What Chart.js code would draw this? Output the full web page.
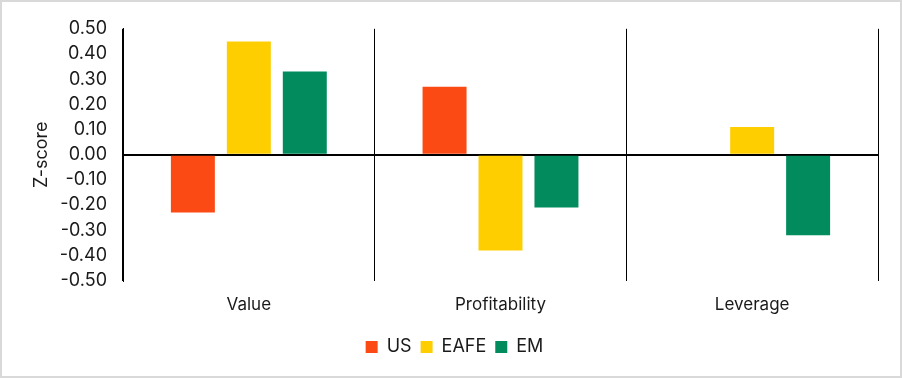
<!DOCTYPE html>
<html>
<head>
<meta charset="utf-8">
<script src="https://cdn.jsdelivr.net/npm/chart.js@4"></script>
<style>
  html, body { margin: 0; padding: 0; background: #fff; }
  #wrap { width: 902px; height: 378px; box-sizing: border-box; border: 2px solid #d9d9d9; position: relative; }
</style>
</head>
<body>
<div id="wrap"><canvas id="chart"></canvas></div>
<script>
// --- DATA ---
const categories = ['Value', 'Profitability', 'Leverage'];
const usValues = [-0.23, 0.27, 0];
const eafeValues = [0.45, -0.38, 0.11];
const emValues = [0.33, -0.21, -0.32];

const COLORS = {
    us: '#fc4a14',
    eafe: '#ffce00',
    em: '#028b5c',
    text: '#1a1a1a'
};

const FONT = 'Inter, "Noto Sans", sans-serif';

function makeDataset(label, data, color) {
    return {
        label: label,
        data: data,
        backgroundColor: color,
        borderWidth: 0,
        categoryPercentage: 0.667,
        barPercentage: 0.786
    };
}

new Chart(document.getElementById('chart'), {
    type: 'bar',
    data: {
        labels: categories,
        datasets: [
            makeDataset('US', usValues, COLORS.us),
            makeDataset('EAFE', eafeValues, COLORS.eafe),
            makeDataset('EM', emValues, COLORS.em)
        ]
    },
    options: {
        responsive: true,
        maintainAspectRatio: false,
        animation: false,
        layout: { padding: { top: 8, right: 22, bottom: 10, left: 29 } },
        plugins: {
            legend: {
                position: 'bottom',
                labels: {
                    color: COLORS.text,
                    font: { family: FONT, size: 18 },
                    boxWidth: 12,
                    boxHeight: 12,
                    padding: 9
                }
            },
            tooltip: { enabled: false }
        },
        scales: {
            x: {
                grid: { color: '#000', lineWidth: 1, drawTicks: false, offset: true },
                border: { display: false },
                ticks: { color: COLORS.text, font: { family: FONT, size: 17 }, padding: 14 }
            },
            y: {
                min: -0.5,
                max: 0.5,
                afterFit: (scale) => { scale.width = 92; },
                ticks: {
                    stepSize: 0.1,
                    color: COLORS.text,
                    font: { family: FONT, size: 18 },
                    padding: 16,
                    callback: (v) => v.toFixed(2)
                },
                grid: {
                    drawTicks: false,
                    color: (ctx) => Math.abs(ctx.tick.value) < 1e-9 ? '#000' : 'transparent',
                    lineWidth: 2
                },
                border: { display: true, color: '#000', width: 1 },
                title: {
                    display: true,
                    text: 'Z-score',
                    color: COLORS.text,
                    font: { family: FONT, size: 18 },
                    padding: { top: 0, bottom: 4 }
                }
            }
        }
    }
});
</script>
</body>
</html>
